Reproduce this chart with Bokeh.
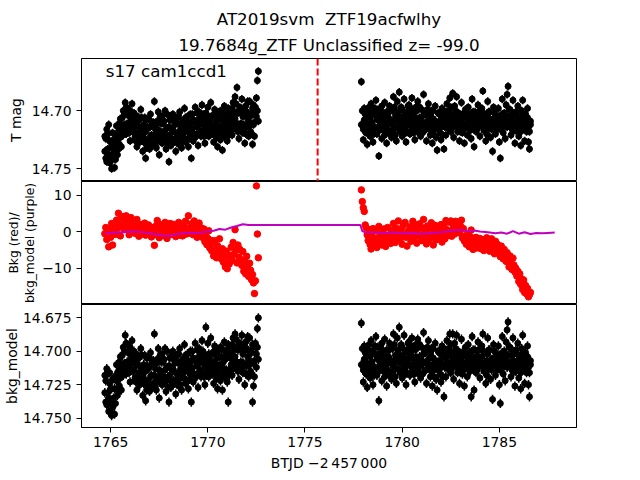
from bokeh.plotting import figure
from bokeh.layouts import column
from bokeh.models import Range1d, FixedTicker, NumeralTickFormatter, Span, Label, Title, ColumnDataSource
from bokeh.embed import file_html
from bokeh.resources import INLINE

FONT = "DejaVu Sans"

# ---------------- data ----------------
title_line1 = "AT2019svm\u00a0\u00a0ZTF19acfwlhy"
title_line2 = "19.7684g_ZTF Unclassified z= -99.0"
sector_text = "s17 cam1ccd1"
trigger_btjd = 1775.65
tmag_err = 0.0035

t1 = [1764.70, 1764.75, 1764.80, 1764.85, 1764.90, 1764.95, 1765.00, 1765.05, 1765.10, 1765.15,
      1765.20, 1765.25, 1765.30, 1765.35, 1765.40, 1765.45, 1765.50, 1765.55, 1765.60, 1765.65,
      1765.70, 1765.75, 1765.80, 1765.85, 1765.90, 1765.95, 1766.00, 1766.05, 1766.10, 1766.15,
      1766.20, 1766.25, 1766.30, 1766.35, 1766.40, 1766.45, 1766.50, 1766.55, 1766.60, 1766.65,
      1766.70, 1766.75, 1766.80, 1766.85, 1766.90, 1766.95, 1767.00, 1767.05, 1767.10, 1767.15,
      1767.20, 1767.25, 1767.30, 1767.35, 1767.40, 1767.45, 1767.50, 1767.55, 1767.60, 1767.65,
      1767.70, 1767.75, 1767.80, 1767.85, 1767.90, 1767.95, 1768.00, 1768.05, 1768.10, 1768.15,
      1768.20, 1768.25, 1768.30, 1768.35, 1768.40, 1768.45, 1768.50, 1768.55, 1768.60, 1768.65,
      1768.70, 1768.75, 1768.80, 1768.85, 1768.90, 1768.95, 1769.00, 1769.05, 1769.10, 1769.15,
      1769.20, 1769.25, 1769.30, 1769.35, 1769.40, 1769.45, 1769.50, 1769.55, 1769.60, 1769.65,
      1769.70, 1769.75, 1769.80, 1769.85, 1769.90, 1769.95, 1770.00, 1770.05, 1770.10, 1770.15,
      1770.20, 1770.25, 1770.30, 1770.35, 1770.40, 1770.45, 1770.50, 1770.55, 1770.60, 1770.65,
      1770.70, 1770.75, 1770.80, 1770.85, 1770.90, 1770.95, 1771.00, 1771.05, 1771.10, 1771.15,
      1771.20, 1771.25, 1771.30, 1771.35, 1771.40, 1771.45, 1771.50, 1771.55, 1771.60, 1771.65,
      1771.70, 1771.75, 1771.80, 1771.85, 1771.90, 1771.95, 1772.00, 1772.05, 1772.10, 1772.15,
      1772.20, 1772.25, 1772.30, 1772.35, 1772.40, 1772.45, 1772.50, 1772.55, 1772.60]

t2 = [1777.90, 1777.95, 1778.00, 1778.05, 1778.10, 1778.15, 1778.20, 1778.25, 1778.30, 1778.35,
      1778.40, 1778.45, 1778.50, 1778.55, 1778.60, 1778.65, 1778.70, 1778.75, 1778.80, 1778.85,
      1778.90, 1778.95, 1779.00, 1779.05, 1779.10, 1779.15, 1779.20, 1779.25, 1779.30, 1779.35,
      1779.40, 1779.45, 1779.50, 1779.55, 1779.60, 1779.65, 1779.70, 1779.75, 1779.80, 1779.85,
      1779.90, 1779.95, 1780.00, 1780.05, 1780.10, 1780.15, 1780.20, 1780.25, 1780.30, 1780.35,
      1780.40, 1780.45, 1780.50, 1780.55, 1780.60, 1780.65, 1780.70, 1780.75, 1780.80, 1780.85,
      1780.90, 1780.95, 1781.00, 1781.05, 1781.10, 1781.15, 1781.20, 1781.25, 1781.30, 1781.35,
      1781.40, 1781.45, 1781.50, 1781.55, 1781.60, 1781.65, 1781.70, 1781.75, 1781.80, 1781.85,
      1781.90, 1781.95, 1782.00, 1782.05, 1782.10, 1782.15, 1782.20, 1782.25, 1782.30, 1782.35,
      1782.40, 1782.45, 1782.50, 1782.55, 1782.60, 1782.65, 1782.70, 1782.75, 1782.80, 1782.85,
      1782.90, 1782.95, 1783.00, 1783.05, 1783.10, 1783.15, 1783.20, 1783.25, 1783.30, 1783.35,
      1783.40, 1783.45, 1783.50, 1783.55, 1783.60, 1783.65, 1783.70, 1783.75, 1783.80, 1783.85,
      1783.90, 1783.95, 1784.00, 1784.05, 1784.10, 1784.15, 1784.20, 1784.25, 1784.30, 1784.35,
      1784.40, 1784.45, 1784.50, 1784.55, 1784.60, 1784.65, 1784.70, 1784.75, 1784.80, 1784.85,
      1784.90, 1784.95, 1785.00, 1785.05, 1785.10, 1785.15, 1785.20, 1785.25, 1785.30, 1785.35,
      1785.40, 1785.45, 1785.50, 1785.55, 1785.60, 1785.65, 1785.70, 1785.75, 1785.80, 1785.85,
      1785.90, 1785.95, 1786.00, 1786.05, 1786.10, 1786.15, 1786.20, 1786.25, 1786.30, 1786.35,
      1786.40, 1786.45, 1786.50, 1786.55, 1786.60]

# T mag, first and second reading of the dense band at each column
tmag1 = [14.722, 14.741, 14.716, 14.733, 14.712, 14.745, 14.727, 14.750, 14.719, 14.736,
         14.749, 14.724, 14.713, 14.738, 14.718, 14.729, 14.707, 14.731, 14.715, 14.700,
         14.712, 14.693, 14.720, 14.698, 14.715, 14.704, 14.726, 14.709, 14.694, 14.718,
         14.702, 14.723, 14.710, 14.731, 14.705, 14.719, 14.727, 14.699, 14.716, 14.735,
         14.712, 14.724, 14.741, 14.707, 14.729, 14.715, 14.733, 14.703, 14.721, 14.712,
         14.727, 14.692, 14.716, 14.732, 14.709, 14.722, 14.738, 14.705, 14.719, 14.728,
         14.711, 14.726, 14.700, 14.733, 14.715, 14.722, 14.744, 14.708, 14.730, 14.717,
         14.703, 14.725, 14.712, 14.735, 14.706, 14.720, 14.729, 14.701, 14.716, 14.732,
         14.709, 14.723, 14.698, 14.727, 14.714, 14.705, 14.731, 14.712, 14.720, 14.741,
         14.703, 14.726, 14.710, 14.697, 14.721, 14.714, 14.730, 14.701, 14.717, 14.708,
         14.695, 14.719, 14.706, 14.728, 14.702, 14.713, 14.697, 14.722, 14.709, 14.693,
         14.716, 14.704, 14.727, 14.699, 14.718, 14.708, 14.731, 14.702, 14.714, 14.725,
         14.707, 14.734, 14.711, 14.696, 14.720, 14.703, 14.726, 14.713, 14.699, 14.716,
         14.704, 14.721, 14.693, 14.710, 14.688, 14.715, 14.680, 14.702, 14.724, 14.697,
         14.711, 14.690, 14.719, 14.703, 14.728, 14.696, 14.714, 14.707, 14.722, 14.692,
         14.718, 14.704, 14.729, 14.695, 14.710, 14.700, 14.689, 14.674, 14.666]

tmag1b = [14.735, 14.724, 14.744, 14.720, 14.738, 14.726, 14.741, 14.731, 14.742, 14.725,
          14.731, 14.742, 14.726, 14.720, 14.733, 14.711, 14.723, 14.716, 14.706, 14.721,
          14.703, 14.716, 14.697, 14.711, 14.704, 14.719, 14.700, 14.717, 14.712, 14.705,
          14.717, 14.709, 14.726, 14.713, 14.722, 14.708, 14.714, 14.724, 14.706, 14.720,
          14.727, 14.706, 14.718, 14.732, 14.714, 14.726, 14.708, 14.722, 14.713, 14.730,
          14.710, 14.721, 14.729, 14.712, 14.724, 14.701, 14.717, 14.726, 14.711, 14.705,
          14.722, 14.709, 14.717, 14.725, 14.703, 14.730, 14.714, 14.721, 14.707, 14.726,
          14.716, 14.709, 14.727, 14.719, 14.724, 14.711, 14.705, 14.723, 14.728, 14.713,
          14.720, 14.712, 14.716, 14.706, 14.725, 14.718, 14.710, 14.724, 14.703, 14.715,
          14.716, 14.708, 14.720, 14.723, 14.709, 14.702, 14.712, 14.719, 14.706, 14.722,
          14.711, 14.703, 14.722, 14.714, 14.708, 14.721, 14.716, 14.705, 14.717, 14.712,
          14.705, 14.720, 14.712, 14.716, 14.703, 14.723, 14.713, 14.719, 14.707, 14.700,
          14.720, 14.715, 14.702, 14.722, 14.709, 14.717, 14.706, 14.698, 14.721, 14.708,
          14.713, 14.698, 14.716, 14.701, 14.707, 14.694, 14.711, 14.718, 14.700, 14.713,
          14.699, 14.716, 14.705, 14.712, 14.697, 14.720, 14.701, 14.692, 14.709, 14.713,
          14.703, 14.720, 14.698, 14.712, 14.722, 14.697, 14.705, 14.700, 14.709]

tmag2 = [14.675, 14.712, 14.725, 14.698, 14.718, 14.706, 14.729, 14.701, 14.715, 14.722,
         14.694, 14.710, 14.727, 14.703, 14.716, 14.691, 14.720, 14.708, 14.739, 14.712,
         14.699, 14.724, 14.706, 14.717, 14.693, 14.713, 14.728, 14.702, 14.719, 14.696,
         14.711, 14.723, 14.700, 14.688, 14.715, 14.705, 14.726, 14.692, 14.709, 14.684,
         14.718, 14.697, 14.722, 14.707, 14.690, 14.714, 14.727, 14.701, 14.712, 14.695,
         14.720, 14.704, 14.689, 14.716, 14.708, 14.725, 14.697, 14.713, 14.692, 14.719,
         14.706, 14.722, 14.699, 14.711, 14.686, 14.717, 14.703, 14.726, 14.709, 14.694,
         14.714, 14.721, 14.700, 14.728, 14.707, 14.716, 14.696, 14.723, 14.734, 14.710,
         14.703, 14.719, 14.725, 14.698, 14.712, 14.733, 14.706, 14.721, 14.694, 14.715,
         14.700, 14.689, 14.718, 14.706, 14.685, 14.723, 14.696, 14.711, 14.688, 14.714,
         14.702, 14.726, 14.709, 14.693, 14.719, 14.705, 14.728, 14.699, 14.713, 14.721,
         14.697, 14.716, 14.704, 14.724, 14.690, 14.711, 14.731, 14.701, 14.718, 14.707,
         14.695, 14.712, 14.722, 14.699, 14.706, 14.683, 14.717, 14.703, 14.726, 14.709,
         14.692, 14.715, 14.701, 14.723, 14.708, 14.735, 14.697, 14.713, 14.720, 14.704,
         14.716, 14.698, 14.727, 14.741, 14.707, 14.690, 14.719, 14.702, 14.724, 14.695,
         14.686, 14.679, 14.712, 14.699, 14.721, 14.705, 14.691, 14.717, 14.728, 14.701,
         14.713, 14.696, 14.722, 14.707, 14.730, 14.700, 14.691, 14.715, 14.726, 14.703,
         14.718, 14.698, 14.727, 14.733, 14.709]

tmag2b = [14.712, 14.700, 14.716, 14.708, 14.703, 14.719, 14.711, 14.714, 14.697, 14.706,
          14.718, 14.702, 14.713, 14.720, 14.698, 14.715, 14.707, 14.699, 14.717, 14.704,
          14.711, 14.696, 14.714, 14.703, 14.721, 14.709, 14.701, 14.716, 14.706, 14.719,
          14.700, 14.709, 14.717, 14.712, 14.697, 14.721, 14.708, 14.715, 14.701, 14.710,
          14.705, 14.716, 14.699, 14.712, 14.720, 14.703, 14.709, 14.718, 14.696, 14.707,
          14.712, 14.698, 14.714, 14.701, 14.719, 14.710, 14.706, 14.700, 14.716, 14.708,
          14.697, 14.713, 14.709, 14.719, 14.704, 14.701, 14.716, 14.711, 14.699, 14.714,
          14.707, 14.703, 14.717, 14.712, 14.700, 14.721, 14.709, 14.713, 14.715, 14.702,
          14.716, 14.709, 14.704, 14.713, 14.721, 14.700, 14.714, 14.707, 14.711, 14.703,
          14.711, 14.702, 14.697, 14.715, 14.709, 14.704, 14.712, 14.700, 14.706, 14.718,
          14.714, 14.707, 14.718, 14.710, 14.703, 14.716, 14.712, 14.712, 14.704, 14.707,
          14.710, 14.703, 14.717, 14.712, 14.708, 14.701, 14.715, 14.711, 14.706, 14.716,
          14.706, 14.701, 14.713, 14.710, 14.698, 14.713, 14.703, 14.716, 14.711, 14.720,
          14.704, 14.701, 14.713, 14.709, 14.716, 14.711, 14.707, 14.702, 14.709, 14.715,
          14.709, 14.714, 14.705, 14.716, 14.712, 14.703, 14.708, 14.713, 14.710, 14.706,
          14.714, 14.705, 14.699, 14.710, 14.712, 14.716, 14.702, 14.709, 14.711, 14.717,
          14.704, 14.712, 14.709, 14.715, 14.718, 14.711, 14.703, 14.707, 14.713, 14.716,
          14.710, 14.706, 14.714, 14.718, 14.712]

bkg1 = [-0.5, 1.2, -2.1, 0.4, -4.1, 0.8, -1.5, 2.3, -3.6, 0.1,
        1.8, -0.7, 3.2, 0.9, 5.1, 2.0, -1.1, 3.8, 1.4, 4.2,
        0.6, 2.7, 4.4, 1.1, 3.5, -0.8, 2.2, 3.9, 0.3, 1.7,
        2.9, -0.4, 1.3, 3.4, 0.5, -1.2, 2.1, 0.8, 1.6, -0.6,
        0.9, 2.4, -0.9, 1.2, 0.2, 1.9, -0.3, 0.7, -1.4, 1.1,
        0.4, -3.7, 1.5, -0.8, 3.1, 0.2, -1.6, 2.0, 0.6, -0.5,
        1.3, -1.0, 2.6, 0.1, -1.8, 1.7, 0.4, 2.3, -0.7, 1.0,
        2.1, -0.2, 0.9, -1.3, 1.8, 0.3, 2.6, -0.9, 1.2, 0.5,
        -1.1, 1.6, 0.2, 2.9, -0.6, 1.0, 4.4, 0.7, -0.4, 2.2,
        1.4, -0.8, 3.0, 0.6, 1.9, -1.5, 0.9, 2.4, -0.3, 1.1,
        -0.2, -1.6, 0.8, -2.7, -0.9, -3.5, -1.8, 0.3, -4.4, -2.3,
        -5.2, -3.1, -6.6, -2.4, -4.9, -7.1, -3.8, -5.6, -1.9, -6.2,
        -7.4, -4.6, -8.3, -6.0, -9.6, -5.3, -10.1, -7.0, -8.8, -6.4,
        -4.2, -7.8, -2.9, -6.1, 0.6, -5.0, -8.5, -3.6, -6.9, -4.8,
        -7.6, -9.2, -5.4, -10.8, -8.1, -11.5, -6.7, -9.9, -12.2, -8.6,
        -10.5, -13.1, -11.7, -14.0, -16.9, -13.4, 12.6, -0.6, -7.1]

bkg2 = [11.5, 8.3, 6.6, 5.6, 1.9, 1.1, -0.8, -2.4, 0.6, -3.5,
        -4.7, -1.2, 0.9, -3.0, -2.1, 0.3, -4.3, -1.6, 1.5, -2.8,
        -0.5, -3.6, -1.9, 0.8, -2.5, -4.0, -0.9, 1.2, -2.2, -1.3,
        -3.2, 0.4, -1.7, 2.3, -0.6, -2.9, 1.0, -1.4, 3.0, -0.2,
        -2.0, 0.7, -3.4, 1.8, -0.8, 2.6, -1.5, -3.9, 0.2, -1.1,
        1.4, -2.6, 0.5, 2.9, -1.8, -0.3, 1.9, -3.1, 0.8, -1.2,
        2.2, -0.7, -2.4, 1.1, 3.4, -1.5, 0.3, -3.3, 1.6, -0.9,
        -2.1, 0.9, 2.5, -1.3, -3.6, 0.4, 1.8, -2.2, -0.5, 1.3,
        -1.6, 0.2, 2.0, -2.8, -0.4, 1.5, -1.9, 3.1, 0.6, -1.0,
        2.7, 0.1, 3.0, -1.2, 2.2, 1.4, -0.6, 2.9, 1.8, 0.4,
        2.4, -0.3, 1.6, 3.2, -1.7, 0.9, -2.5, -1.1, -3.4, -0.8,
        -2.2, -4.1, -1.3, 0.5, -3.0, -4.8, -2.0, -3.6, -1.5, -4.4,
        -2.7, -3.9, -1.8, -4.6, -2.4, -3.3, -5.1, -2.1, -3.8, -1.6,
        -4.2, -2.9, -5.3, -3.1, -1.9, -4.7, -3.5, -6.0, -2.6, -4.0,
        -3.4, -5.6, -4.5, -6.8, -3.9, -5.2, -7.4, -4.8, -6.3, -8.1,
        -5.7, -7.9, -9.6, -6.6, -8.8, -10.3, -7.2, -9.1, -11.0, -10.0,
        -12.1, -10.8, -13.6, -11.5, -14.4, -12.9, -15.8, -13.2, -16.6, -14.7,
        -17.0, -15.5, -17.8, -17.2, -16.6]

bkgmod1 = [14.718, 14.738, 14.713, 14.731, 14.745, 14.716, 14.728, 14.748, 14.721, 14.735,
           14.747, 14.719, 14.710, 14.733, 14.715, 14.726, 14.704, 14.729, 14.712, 14.697,
           14.709, 14.688, 14.717, 14.695, 14.712, 14.701, 14.723, 14.706, 14.692, 14.715,
           14.700, 14.720, 14.708, 14.729, 14.703, 14.716, 14.725, 14.698, 14.713, 14.733,
           14.710, 14.721, 14.737, 14.705, 14.726, 14.713, 14.730, 14.701, 14.718, 14.709,
           14.724, 14.687, 14.713, 14.729, 14.706, 14.719, 14.735, 14.703, 14.716, 14.725,
           14.708, 14.723, 14.698, 14.730, 14.712, 14.719, 14.738, 14.705, 14.727, 14.714,
           14.700, 14.722, 14.709, 14.732, 14.703, 14.717, 14.726, 14.698, 14.713, 14.729,
           14.706, 14.720, 14.695, 14.724, 14.711, 14.702, 14.728, 14.709, 14.717, 14.738,
           14.700, 14.723, 14.707, 14.694, 14.718, 14.711, 14.727, 14.698, 14.714, 14.705,
           14.692, 14.716, 14.703, 14.725, 14.682, 14.710, 14.694, 14.719, 14.706, 14.690,
           14.713, 14.701, 14.724, 14.696, 14.715, 14.705, 14.728, 14.699, 14.711, 14.722,
           14.704, 14.729, 14.708, 14.693, 14.717, 14.700, 14.723, 14.738, 14.696, 14.713,
           14.701, 14.718, 14.690, 14.707, 14.687, 14.712, 14.697, 14.699, 14.721, 14.694,
           14.708, 14.688, 14.716, 14.700, 14.725, 14.693, 14.711, 14.704, 14.719, 14.690,
           14.715, 14.701, 14.738, 14.726, 14.707, 14.697, 14.712, 14.683, 14.675]

bkgmod1b = [14.731, 14.722, 14.740, 14.717, 14.735, 14.724, 14.739, 14.728, 14.742, 14.720,
            14.728, 14.739, 14.722, 14.716, 14.730, 14.708, 14.720, 14.713, 14.703, 14.718,
            14.700, 14.713, 14.694, 14.708, 14.701, 14.716, 14.697, 14.714, 14.709, 14.702,
            14.714, 14.706, 14.723, 14.710, 14.719, 14.705, 14.711, 14.721, 14.703, 14.717,
            14.724, 14.703, 14.715, 14.729, 14.711, 14.723, 14.705, 14.719, 14.710, 14.727,
            14.707, 14.718, 14.726, 14.709, 14.721, 14.698, 14.714, 14.723, 14.708, 14.702,
            14.719, 14.706, 14.714, 14.722, 14.700, 14.727, 14.711, 14.718, 14.704, 14.723,
            14.713, 14.706, 14.724, 14.716, 14.721, 14.708, 14.702, 14.720, 14.725, 14.710,
            14.717, 14.709, 14.713, 14.703, 14.722, 14.715, 14.707, 14.721, 14.700, 14.712,
            14.713, 14.705, 14.717, 14.720, 14.706, 14.699, 14.709, 14.716, 14.703, 14.719,
            14.708, 14.700, 14.719, 14.711, 14.705, 14.718, 14.713, 14.702, 14.714, 14.709,
            14.702, 14.717, 14.709, 14.713, 14.700, 14.720, 14.710, 14.716, 14.704, 14.697,
            14.717, 14.712, 14.699, 14.719, 14.706, 14.714, 14.703, 14.695, 14.718, 14.705,
            14.710, 14.695, 14.713, 14.698, 14.704, 14.691, 14.708, 14.715, 14.697, 14.710,
            14.696, 14.713, 14.702, 14.709, 14.694, 14.717, 14.698, 14.689, 14.706, 14.710,
            14.700, 14.717, 14.695, 14.709, 14.719, 14.694, 14.702, 14.697, 14.706]

bkgmod2 = [14.679, 14.710, 14.723, 14.696, 14.716, 14.704, 14.727, 14.699, 14.713, 14.720,
           14.692, 14.708, 14.725, 14.701, 14.714, 14.689, 14.718, 14.706, 14.737, 14.710,
           14.697, 14.722, 14.704, 14.715, 14.691, 14.711, 14.726, 14.700, 14.717, 14.694,
           14.709, 14.721, 14.698, 14.687, 14.713, 14.703, 14.724, 14.690, 14.707, 14.682,
           14.716, 14.695, 14.720, 14.705, 14.688, 14.712, 14.725, 14.699, 14.710, 14.693,
           14.718, 14.702, 14.690, 14.714, 14.706, 14.723, 14.695, 14.711, 14.691, 14.717,
           14.704, 14.720, 14.697, 14.709, 14.686, 14.715, 14.701, 14.724, 14.707, 14.692,
           14.712, 14.719, 14.698, 14.726, 14.705, 14.714, 14.694, 14.721, 14.729, 14.708,
           14.701, 14.717, 14.723, 14.696, 14.710, 14.734, 14.704, 14.719, 14.692, 14.713,
           14.698, 14.687, 14.716, 14.704, 14.687, 14.721, 14.694, 14.709, 14.688, 14.712,
           14.700, 14.724, 14.707, 14.691, 14.717, 14.703, 14.726, 14.697, 14.711, 14.719,
           14.695, 14.714, 14.702, 14.734, 14.689, 14.709, 14.729, 14.699, 14.716, 14.705,
           14.693, 14.710, 14.720, 14.697, 14.704, 14.687, 14.715, 14.701, 14.724, 14.707,
           14.690, 14.713, 14.699, 14.721, 14.706, 14.736, 14.695, 14.711, 14.718, 14.702,
           14.714, 14.696, 14.725, 14.739, 14.705, 14.689, 14.717, 14.700, 14.722, 14.693,
           14.684, 14.678, 14.710, 14.697, 14.719, 14.703, 14.690, 14.715, 14.726, 14.699,
           14.711, 14.694, 14.720, 14.705, 14.728, 14.698, 14.688, 14.713, 14.724, 14.701,
           14.716, 14.696, 14.725, 14.734, 14.707]

bkgmod2b = [14.710, 14.698, 14.714, 14.706, 14.701, 14.717, 14.709, 14.712, 14.695, 14.704,
            14.716, 14.700, 14.711, 14.718, 14.696, 14.713, 14.705, 14.697, 14.715, 14.702,
            14.709, 14.694, 14.712, 14.701, 14.719, 14.707, 14.699, 14.714, 14.704, 14.717,
            14.698, 14.707, 14.715, 14.710, 14.695, 14.719, 14.706, 14.713, 14.699, 14.708,
            14.703, 14.714, 14.697, 14.710, 14.718, 14.701, 14.707, 14.716, 14.694, 14.705,
            14.710, 14.696, 14.712, 14.699, 14.717, 14.708, 14.704, 14.698, 14.714, 14.706,
            14.695, 14.711, 14.707, 14.717, 14.702, 14.699, 14.714, 14.709, 14.697, 14.712,
            14.705, 14.701, 14.715, 14.710, 14.698, 14.719, 14.707, 14.711, 14.713, 14.700,
            14.714, 14.707, 14.702, 14.711, 14.719, 14.698, 14.712, 14.705, 14.709, 14.701,
            14.709, 14.700, 14.695, 14.713, 14.707, 14.702, 14.710, 14.698, 14.704, 14.716,
            14.712, 14.705, 14.716, 14.708, 14.701, 14.714, 14.710, 14.710, 14.702, 14.705,
            14.708, 14.701, 14.715, 14.710, 14.706, 14.699, 14.713, 14.709, 14.704, 14.714,
            14.704, 14.699, 14.711, 14.708, 14.696, 14.711, 14.701, 14.714, 14.709, 14.718,
            14.702, 14.699, 14.711, 14.707, 14.714, 14.709, 14.705, 14.700, 14.707, 14.713,
            14.707, 14.712, 14.703, 14.714, 14.710, 14.701, 14.706, 14.711, 14.708, 14.704,
            14.712, 14.703, 14.697, 14.708, 14.710, 14.714, 14.700, 14.707, 14.709, 14.715,
            14.702, 14.710, 14.707, 14.713, 14.716, 14.709, 14.701, 14.705, 14.711, 14.714,
            14.708, 14.704, 14.712, 14.716, 14.710]

model_t = [1764.70, 1765.00, 1765.50, 1766.00, 1766.50, 1767.00, 1767.50, 1767.80, 1768.20, 1768.60,
           1769.00, 1769.50, 1770.00, 1770.30, 1770.60, 1770.90, 1771.20, 1771.50, 1771.80, 1772.10,
           1772.60, 1775.00, 1777.85, 1777.95, 1778.10, 1778.50, 1779.00, 1779.50, 1780.00, 1780.50,
           1781.00, 1781.50, 1782.00, 1782.50, 1783.00, 1783.40, 1783.70, 1784.00, 1784.40, 1784.80,
           1785.10, 1785.40, 1785.70, 1786.00, 1786.30, 1786.60, 1786.90, 1787.20, 1787.50, 1787.85]
model_v = [-0.4, -0.3, -0.1, 0.1, 0.0, -0.4, -0.8, -1.1, -0.9, -0.4,
           -0.3, -0.3, 0.1, 0.3, 0.8, 0.6, 1.2, 1.6, 2.1, 1.9,
           1.9, 1.9, 1.9, 0.2, -0.1, -0.2, -0.3, -0.2, -0.4, -0.3,
           -0.5, -0.3, -0.1, 0.3, 0.5, 0.2, 0.4, 0.1, -0.1, -0.4,
           -0.2, -0.5, 0.2, -0.5, -0.1, -0.6, -0.3, -0.4, -0.3, -0.2]

# ---------------- build ----------------
t_all = t1 + t2
t_pts = t_all + t_all
tmag_pts = tmag1 + tmag2 + tmag1b + tmag2b
bm_pts = bkgmod1 + bkgmod2 + bkgmod1b + bkgmod2b
bkg_all = bkg1 + bkg2

src_m = ColumnDataSource(dict(
    t=t_pts,
    tmag=tmag_pts,
    tmag_lo=[v - tmag_err for v in tmag_pts],
    tmag_hi=[v + tmag_err for v in tmag_pts],
    bm=bm_pts,
    bm_lo=[v - tmag_err for v in bm_pts],
    bm_hi=[v + tmag_err for v in bm_pts],
))
src_b = ColumnDataSource(dict(t=t_all, bkg=bkg_all))
msrc = ColumnDataSource(dict(t=model_t, v=model_v))

x_range = Range1d(1763.50, 1788.97)
W = 640
LB, RB = 80, 64


def style(p, ticks, ylabel, label_standoff, fmt=None, label_size="13.9px"):
    p.grid.visible = False
    p.outline_line_color = "black"
    p.outline_line_width = 1
    p.outline_line_alpha = 1
    p.background_fill_color = "white"
    p.border_fill_color = "white"
    ax = p.yaxis[0]
    ax.ticker = FixedTicker(ticks=ticks)
    if fmt is not None:
        ax.formatter = fmt
    ax.axis_label = ylabel
    ax.axis_label_text_font = FONT
    ax.axis_label_text_font_size = label_size
    ax.axis_label_text_font_style = "normal"
    ax.axis_label_text_color = "black"
    ax.axis_label_standoff = label_standoff
    ax.major_label_text_font = FONT
    ax.major_label_text_font_size = "13.9px"
    ax.major_label_text_color = "black"
    ax.major_label_standoff = 5
    ax.major_tick_in = 0
    ax.major_tick_out = 5
    ax.major_tick_line_color = "black"
    ax.minor_tick_line_color = None
    ax.axis_line_color = "black"


# panel 1: T mag
p1 = figure(width=W, height=181, x_range=x_range, y_range=Range1d(14.761, 14.655),
            output_backend="svg", toolbar_location=None, x_axis_location=None,
            min_border_left=LB, min_border_right=RB, min_border_top=58, min_border_bottom=0)
p1.title = None
p1.add_layout(Title(text=title_line2, align="center", text_font=FONT, text_font_size="16.7px",
                    text_font_style="normal", text_color="black", standoff=8), "above")
p1.add_layout(Title(text=title_line1, align="center", text_font=FONT, text_font_size="16.7px",
                    text_font_style="normal", text_color="black", standoff=0), "above")
style(p1, [14.70, 14.75], "T mag", 5, NumeralTickFormatter(format="0.00"))
p1.segment(x0="t", y0="tmag_lo", x1="t", y1="tmag_hi", source=src_m, line_color="black", line_width=1.5)
p1.scatter(x="t", y="tmag", source=src_m, size=6, fill_color="black", line_color="black")
p1.add_layout(Span(location=trigger_btjd, dimension="height", line_color="red",
                   line_dash="7 3", line_width=2))
p1.add_layout(Label(x=1764.75, y=14.6657, text=sector_text, text_font=FONT,
                    text_font_size="16.7px", text_color="black", text_baseline="alphabetic"))

# panel 2: background
p2 = figure(width=W, height=123, x_range=x_range, y_range=Range1d(-19.9, 13.8),
            output_backend="svg", toolbar_location=None, x_axis_location=None,
            min_border_left=LB, min_border_right=RB, min_border_top=0, min_border_bottom=0)
style(p2, [-10, 0, 10], "bkg_model (purple)", 2, label_size="12.3px")
p2.yaxis[0].major_label_overrides = {-10: "\u221210", 0: "0", 10: "10"}
p2.add_layout(Title(text="Bkg (red)/", align="center", text_font=FONT, text_font_size="12.3px",
                    text_font_style="normal", text_color="black", standoff=0), "left")
p2.scatter(x="t", y="bkg", source=src_b, size=6.5, fill_color="#ff0000", line_color="#ff0000")
p2.line(x="t", y="v", source=msrc, line_color="#bf00bf", line_width=2)

# panel 3: bkg_model corrected
p3 = figure(width=W, height=176, x_range=x_range, y_range=Range1d(14.757, 14.665),
            output_backend="svg", toolbar_location=None,
            min_border_left=LB, min_border_right=RB, min_border_top=0, min_border_bottom=53)
style(p3, [14.675, 14.700, 14.725, 14.750], "bkg_model", 0, NumeralTickFormatter(format="0.000"))
xa = p3.xaxis[0]
xa.ticker = FixedTicker(ticks=[1765, 1770, 1775, 1780, 1785])
xa.axis_label = "BTJD \u22122\u2009457\u2009000"
xa.axis_label_text_font = FONT
xa.axis_label_text_font_size = "13.9px"
xa.axis_label_text_font_style = "normal"
xa.axis_label_text_color = "black"
xa.axis_label_standoff = 5
xa.major_label_text_font = FONT
xa.major_label_text_font_size = "13.9px"
xa.major_label_text_color = "black"
xa.major_label_standoff = 4
xa.major_tick_in = 0
xa.major_tick_out = 5
xa.major_tick_line_color = "black"
xa.minor_tick_line_color = None
xa.axis_line_color = "black"
p3.segment(x0="t", y0="bm_lo", x1="t", y1="bm_hi", source=src_m, line_color="black", line_width=1.5)
p3.scatter(x="t", y="bm", source=src_m, size=6, fill_color="black", line_color="black")

layout = column(p1, p2, p3, spacing=0)
open("out.html", "w").write(file_html(layout, INLINE))
